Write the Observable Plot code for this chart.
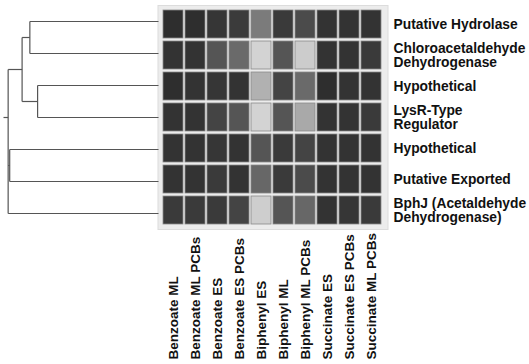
<!DOCTYPE html>
<html>
<head>
<meta charset="utf-8">
<script src="https://cdn.jsdelivr.net/npm/d3@7"></script>
<script src="https://cdn.jsdelivr.net/npm/@observablehq/plot@0.6"></script>
<style>
  html, body { margin: 0; padding: 0; background: #fff; }
  #wrap { position: relative; width: 529px; height: 364px; overflow: hidden; }
  #wrap > svg { position: absolute; left: 0; top: 0; }
</style>
</head>
<body>
<div id="wrap"></div>
<script>
// ---- data ----
const conditions = ["Benzoate ML", "Benzoate ML PCBs", "Benzoate ES", "Benzoate ES PCBs", "Biphenyl ES",
  "Biphenyl ML", "Biphenyl ML PCBs", "Succinate ES", "Succinate ES PCBs", "Succinate ML PCBs"];
const genes = ["Putative Hydrolase", "Chloroacetaldehyde\nDehydrogenase", "Hypothetical", "LysR-Type\nRegulator",
  "Hypothetical", "Putative Exported", "BphJ (Acetaldehyde\nDehydrogenase)"];
// relative expression intensity (0 = darkest, 100 = lightest)
const expression = [
  [0, 0, 5, 8, 46, 7, 17, 3, 3, 3],
  [3, 3, 23, 36, 98, 23, 94, 3, 3, 7],
  [0, 3, 5, 3, 78, 13, 36, 0, 3, 3],
  [3, 3, 13, 23, 98, 23, 73, 3, 3, 7],
  [3, 3, 5, 3, 23, 7, 13, 3, 3, 3],
  [3, 3, 7, 3, 34, 7, 17, 3, 3, 3],
  [7, 7, 7, 13, 95, 23, 34, 3, 5, 7]
];
// dendrogram merges (children: leaf row index or node id), height = linkage distance
const merges = [
  {id: "n12", children: [0, 1], height: 0.83},
  {id: "n34", children: [2, 3], height: 0.78},
  {id: "n1234", children: ["n12", "n34"], height: 0.88},
  {id: "n56", children: [4, 5], height: 0.96},
  {id: "root", children: ["n1234", "n56", 6], height: 0.97}
];
const maxHeight = 1.0;

// ---- build tables ----
const cells = [];
expression.forEach((row, r) => row.forEach((v, c) => cells.push({row: r, condition: conditions[c], value: v})));
const rowsIdx = genes.map((g, i) => i);

const nodes = new Map();
rowsIdx.forEach(i => nodes.set(i, {y: i + 0.5, h: 0}));
const segs = [];
for (const m of merges) {
  const ch = m.children.map(c => nodes.get(c));
  const y = (ch[0].y + ch[1].y) / 2;
  const ys = ch.map(c => c.y);
  segs.push({x1: m.height, x2: m.height, y1: d3.min(ys), y2: d3.max(ys)});
  for (const c of ch) segs.push({x1: c.h, x2: m.height, y1: c.y, y2: c.y});
  nodes.set(m.id, {y, h: m.height});
}
const rootNode = nodes.get("root");
segs.push({x1: rootNode.h, x2: maxHeight, y1: rootNode.y, y2: rootNode.y});

const W = 529, H = 364;
const mTop = 5, mBottom = 135;
const font = "'Liberation Sans', Arial, Helvetica, sans-serif";

const heat = Plot.plot({
  width: W, height: H,
  marginLeft: 157.5, marginRight: 141.5, marginTop: mTop, marginBottom: mBottom,
  style: {fontFamily: font, background: "transparent"},
  x: {type: "band", domain: conditions, padding: 0.08, axis: null},
  y: {type: "band", domain: rowsIdx, padding: 0.1, axis: null},
  color: {type: "linear", domain: [0, 100], range: ["#2e2e2e", "#d6d6d6"], interpolate: "rgb"},
  marks: [
    Plot.frame({fill: "#ececec", stroke: "#dcdcdc"}),
    Plot.cell(cells, {x: "condition", y: "row", fill: "value", stroke: "#8a8a8a", strokeWidth: 0.8}),
    Plot.text(genes.map((g, i) => ({row: i, label: g})), {
      y: "row", text: "label", frameAnchor: "right", textAnchor: "start", dx: 5.5,
      fontSize: 13.8, fontWeight: "bold", fill: "#111", lineHeight: 1.0
    }),
    Plot.text(conditions, {
      x: d => d, text: d => d, frameAnchor: "bottom", rotate: -90, textAnchor: "start",
      dy: 130, fontSize: 13.5, fontWeight: "bold", fill: "#111", lineAnchor: "middle"
    })
  ]
});

const dendro = Plot.plot({
  width: W, height: H,
  marginLeft: 3, marginRight: W - 158, marginTop: mTop, marginBottom: mBottom,
  style: {background: "transparent"},
  x: {domain: [maxHeight, 0], axis: null},
  y: {domain: [0, genes.length], reverse: true, axis: null},
  marks: [
    Plot.link(segs, {x1: "x1", x2: "x2", y1: "y1", y2: "y2", stroke: "#555", strokeWidth: 1.2})
  ]
});

const wrap = document.getElementById("wrap");
wrap.appendChild(heat);
wrap.appendChild(dendro);
</script>
</body>
</html>
